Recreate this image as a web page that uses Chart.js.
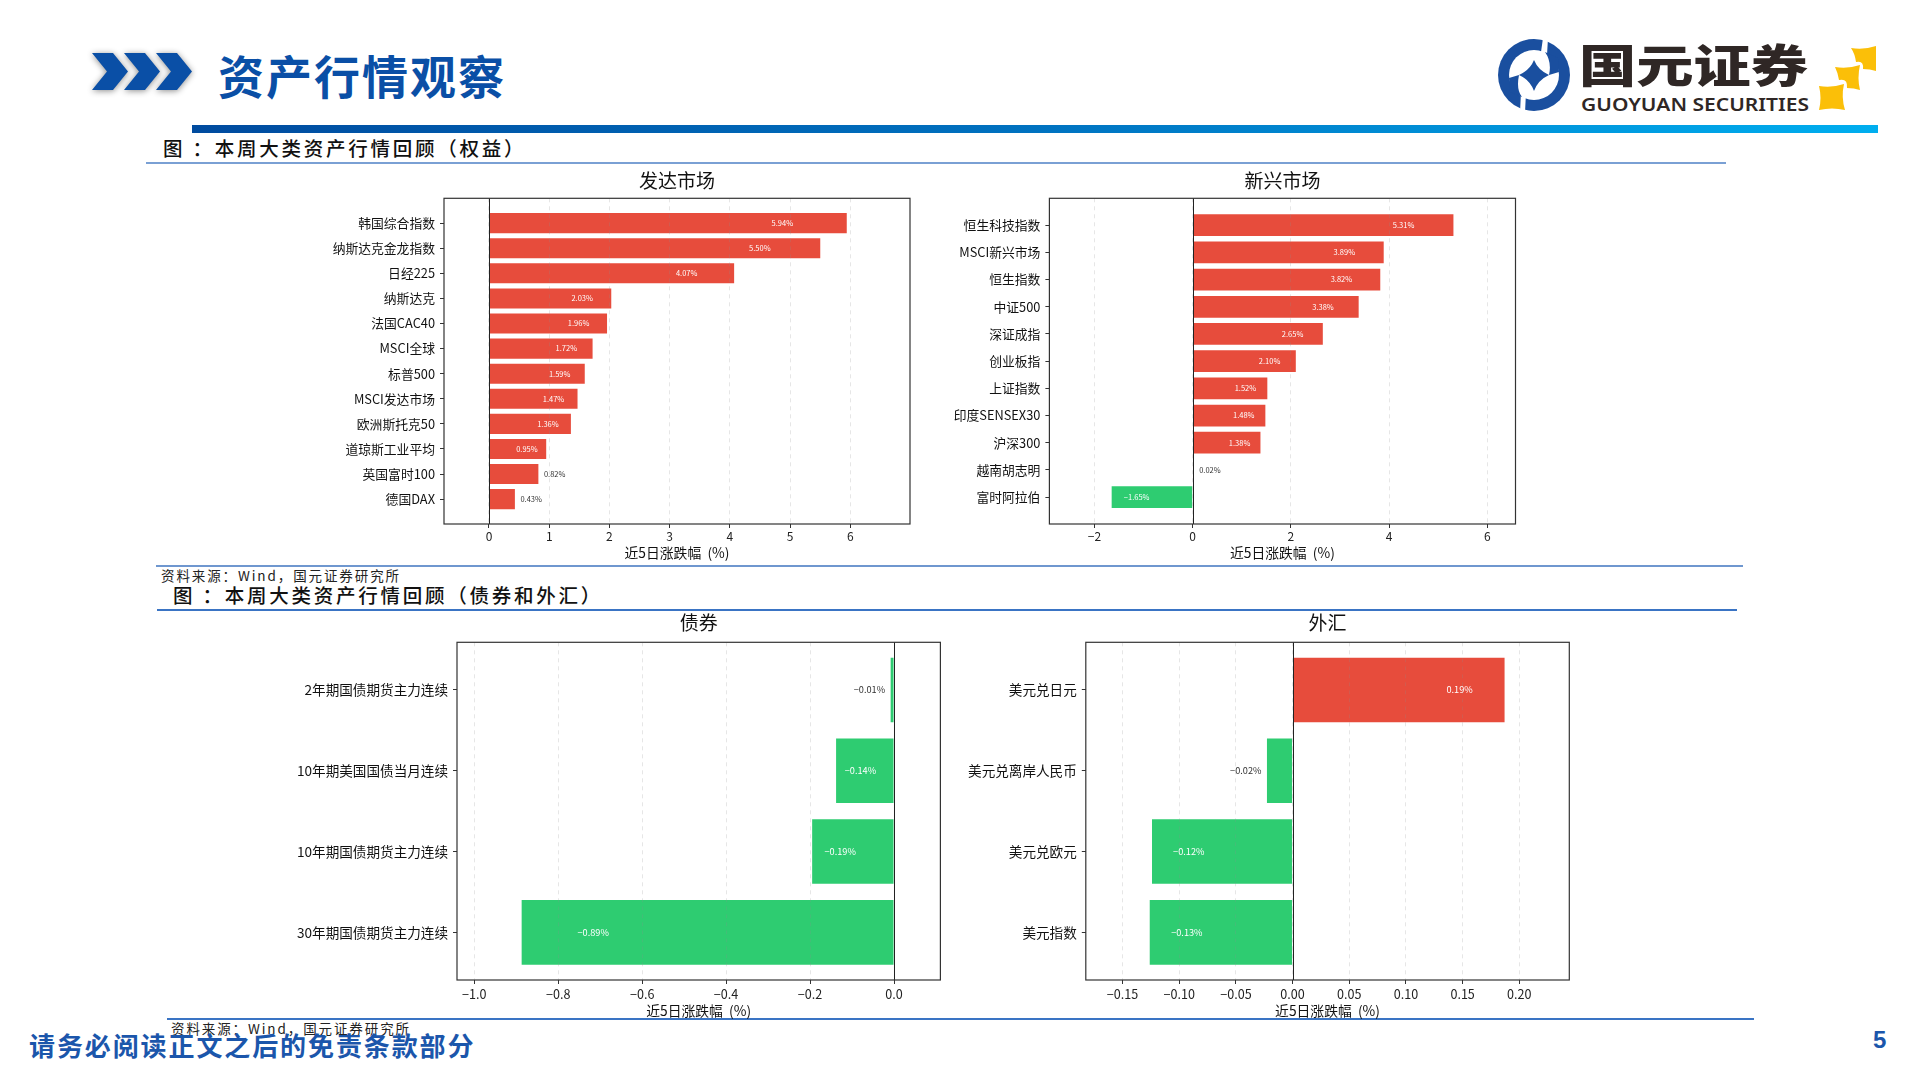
<!DOCTYPE html>
<html lang="zh">
<head>
<meta charset="utf-8">
<title>资产行情观察</title>
<script src="https://cdn.jsdelivr.net/npm/chart.js@4"></script>
<style>
    html, body { margin: 0; padding: 0; background: #fff; }
    #page { position: relative; width: 1920px; height: 1080px; overflow: hidden; background: #fff; font-family: "Noto Sans CJK SC", sans-serif; }
    .txt { position: absolute; white-space: nowrap; }
    .rule { position: absolute; }
    .box { position: absolute; }
    #pageTitle { left: 218px; top: 44px; line-height: 60px; font-size: 46px; font-weight: 700; letter-spacing: 2px; color: #0a4fa6; }
    #topBar { left: 192px; top: 125px; width: 1686px; height: 8px; background: linear-gradient(to right, #004b9f, #0072c0 50%, #00aeef); }
    .head { font-size: 19.5px; font-weight: 500; letter-spacing: 2.75px; color: #111; line-height: 24px; }
    .source { font-size: 13.5px; letter-spacing: 1.9px; color: #222; line-height: 16px; }
    #footer { left: 29px; top: 1027px; line-height: 36px; font-size: 26px; font-weight: 700; letter-spacing: 1.9px; color: #1b56ab; }
    #pageNo { left: 1873px; top: 1024px; line-height: 32px; font-family: "Liberation Sans", sans-serif; font-size: 24px; font-weight: 700; color: #1b56ab; }
</style>
</head>
<body>
<div id="page">
    <svg class="box" style="left:85px;top:45px;filter:drop-shadow(0 1px 3px rgba(0,0,0,.45))" width="115" height="55" viewBox="85 45 115 55">
        <polygon fill="#0a4fa6" points="92,53 113,53 128,71.5 113,90 92,90 107,71.5"/>
        <polygon fill="#0a4fa6" points="124,53 145,53 160,71.5 145,90 124,90 139,71.5"/>
        <polygon fill="#0a4fa6" points="156,53 177,53 192,71.5 177,90 156,90 171,71.5"/>
    </svg>
    <div class="txt" id="pageTitle">资产行情观察</div>

    <svg class="box" style="left:1490px;top:30px" width="400" height="90" viewBox="1490 30 400 90">
        <circle cx="1534" cy="75" r="36" fill="#1a4f9f"/>
        <circle cx="1534" cy="75" r="25" fill="#fff"/>
        <path fill="#1a4f9f" d="M1534 60 Q1538 70 1549 75 Q1538 80 1534 91 Q1530 80 1519 75 Q1530 70 1534 60Z"/>
        <path fill="#fff" d="M1543 38 L1548 38 L1547 55 L1541 52Z M1521 92 L1526 92 L1525 113 L1520 113Z"/>
        <path fill="#1a4f9f" d="M1545 52 Q1552 62 1549 75 L1559 72 L1558 58Z M1522 97 Q1516 90 1519 75 L1509 78 L1510 92Z"/>
        <text x="1579" y="83" font-family="Noto Sans CJK SC" font-weight="900" font-size="45" fill="#2f2725" textLength="229" lengthAdjust="spacingAndGlyphs">国元证券</text>
        <text x="1581" y="111" font-family="Noto Sans" font-weight="600" font-size="18" fill="#2f2725" textLength="228" lengthAdjust="spacingAndGlyphs">GUOYUAN SECURITIES</text>
        <path fill="#fbbf08" d="M1819 86 Q1832 88 1844 84 Q1841 97 1845 110 Q1832 107 1819 110 Q1822 98 1819 86Z"/>
        <path fill="#fbbf08" d="M1835 67 Q1848 69 1860 65 Q1857 78 1860 90 Q1854 88 1847 88 Q1848 78 1839 80 Q1838 73 1835 67Z"/>
        <path fill="#fbbf08" d="M1851 48 Q1864 50 1876 46 L1876 71 Q1870 69 1863 69 Q1864 60 1856 62 Q1855 54 1851 48Z"/>
    </svg>

    <div class="rule" id="topBar"></div>

    <div class="txt head" style="left:163px;top:136px">图 ：本周大类资产行情回顾（权益）</div>
    <div class="rule" style="left:146px;top:162px;width:1580px;height:2px;background:#7aa0d4"></div>
    <div class="txt source" style="left:161px;top:567px">资料来源：Wind，国元证券研究所</div>
    <div class="rule" style="left:156px;top:565px;width:1587px;height:2px;background:#6f97cf"></div>

    <div class="txt head" style="left:173px;top:583px">图 ：本周大类资产行情回顾（债券和外汇）</div>
    <div class="rule" style="left:157px;top:609px;width:1580px;height:2px;background:#3a74c4"></div>
    <div class="txt source" style="left:171px;top:1020px">资料来源：Wind，国元证券研究所</div>
    <div class="rule" style="left:167px;top:1018px;width:1587px;height:2px;background:#3a74c4"></div>

    <div class="box" style="left:300px;top:165px;width:640px;height:401px"><canvas id="developedChart"></canvas></div>
    <div class="box" style="left:940px;top:165px;width:620px;height:401px"><canvas id="emergingChart"></canvas></div>
    <div class="box" style="left:280px;top:608px;width:680px;height:414px"><canvas id="bondChart"></canvas></div>
    <div class="box" style="left:960px;top:608px;width:640px;height:414px"><canvas id="fxChart"></canvas></div>

    <div class="txt" id="footer">请务必阅读正文之后的免责条款部分</div>
    <div class="txt" id="pageNo">5</div>
</div>

<script>
const RED = '#e74c3c';
const GREEN = '#2ecc71';
const FONT = '"Noto Sans CJK SC", sans-serif';
const AXIS_TITLE = '近5日涨跌幅  (%)';

// 发达市场
const developedCategories = ['韩国综合指数', '纳斯达克金龙指数', '日经225', '纳斯达克', '法国CAC40', 'MSCI全球', '标普500', 'MSCI发达市场', '欧洲斯托克50', '道琼斯工业平均', '英国富时100', '德国DAX'];
const developedValues = [5.94, 5.50, 4.07, 2.03, 1.96, 1.72, 1.59, 1.47, 1.36, 0.95, 0.82, 0.43];
const developedLabels = ['5.94%', '5.50%', '4.07%', '2.03%', '1.96%', '1.72%', '1.59%', '1.47%', '1.36%', '0.95%', '0.82%', '0.43%'];
const developedTicks = [0, 1, 2, 3, 4, 5, 6];
const developedTickLabels = ['0', '1', '2', '3', '4', '5', '6'];

// 新兴市场
const emergingCategories = ['恒生科技指数', 'MSCI新兴市场', '恒生指数', '中证500', '深证成指', '创业板指', '上证指数', '印度SENSEX30', '沪深300', '越南胡志明', '富时阿拉伯'];
const emergingValues = [5.31, 3.89, 3.82, 3.38, 2.65, 2.10, 1.52, 1.48, 1.38, 0.02, -1.65];
const emergingLabels = ['5.31%', '3.89%', '3.82%', '3.38%', '2.65%', '2.10%', '1.52%', '1.48%', '1.38%', '0.02%', '−1.65%'];
const emergingTicks = [-2, 0, 2, 4, 6];
const emergingTickLabels = ['−2', '0', '2', '4', '6'];

// 债券
const bondCategories = ['2年期国债期货主力连续', '10年期美国国债当月连续', '10年期国债期货主力连续', '30年期国债期货主力连续'];
const bondValues = [-0.008, -0.138, -0.195, -0.887];
const bondLabels = ['−0.01%', '−0.14%', '−0.19%', '−0.89%'];
const bondTicks = [-1.0, -0.8, -0.6, -0.4, -0.2, 0];
const bondTickLabels = ['−1.0', '−0.8', '−0.6', '−0.4', '−0.2', '0.0'];

// 外汇
const fxCategories = ['美元兑日元', '美元兑离岸人民币', '美元兑欧元', '美元指数'];
const fxValues = [0.187, -0.0226, -0.124, -0.126];
const fxLabels = ['0.19%', '−0.02%', '−0.12%', '−0.13%'];
const fxTicks = [-0.15, -0.10, -0.05, 0, 0.05, 0.10, 0.15, 0.20];
const fxTickLabels = ['−0.15', '−0.10', '−0.05', '0.00', '0.05', '0.10', '0.15', '0.20'];

// Box around the plot, the zero line and the value text on the bars
const framePlugin = {
    id: 'framePlugin',
    afterDraw(chart, args, opts) {
        const ctx = chart.ctx;
        const area = chart.chartArea;
        const xScale = chart.scales.x;
        const yScale = chart.scales.y;
        const zeroX = Math.round(xScale.getPixelForValue(0)) + 0.5;

        ctx.save();
        ctx.lineWidth = 1;
        ctx.strokeStyle = '#222';
        ctx.beginPath();
        ctx.moveTo(zeroX, area.top);
        ctx.lineTo(zeroX, area.bottom);
        ctx.stroke();
        ctx.strokeStyle = '#333';
        ctx.lineWidth = 1.2;
        ctx.strokeRect(area.left, area.top, area.right - area.left, area.bottom - area.top);

        const biggest = Math.max(...opts.values.map(v => Math.abs(v)));
        ctx.font = opts.size + 'px ' + FONT;
        ctx.textBaseline = 'middle';
        opts.values.forEach((v, i) => {
            const y = yScale.getPixelForValue(i);
            if (Math.abs(v) < biggest * 0.15) {
                // too short, text goes beyond the end of the bar
                const end = xScale.getPixelForValue(v);
                ctx.fillStyle = '#333';
                ctx.textAlign = v < 0 ? 'right' : 'left';
                ctx.fillText(opts.texts[i], end + (v < 0 ? -5.5 : 5.5), y);
            } else {
                ctx.fillStyle = '#fff';
                ctx.textAlign = v < 0 ? 'left' : 'right';
                ctx.fillText(opts.texts[i], xScale.getPixelForValue(v * 0.85), y);
            }
        });
        ctx.restore();
    }
};

function drawBars(canvasId, title, s) {
    const ctx = document.getElementById(canvasId).getContext('2d');
    new Chart(ctx, {
        type: 'bar',
        data: {
            datasets: [{
                data: s.values.map((v, i) => ({ x: v, y: i })),
                backgroundColor: s.values.map(v => v >= 0 ? RED : GREEN),
                categoryPercentage: 1,
                barPercentage: 0.8
            }]
        },
        plugins: [framePlugin],
        options: {
            indexAxis: 'y',
            responsive: true,
            maintainAspectRatio: false,
            animation: false,
            layout: { autoPadding: false, padding: { right: s.rightGap } },
            plugins: {
                legend: { display: false },
                tooltip: { enabled: false },
                title: {
                    display: true,
                    fullSize: false,
                    text: title,
                    color: '#111',
                    font: { family: FONT, size: 19, weight: 'normal' },
                    padding: { top: s.titleTop, bottom: s.titleBottom }
                },
                framePlugin: { values: s.values, texts: s.labels, size: s.labelSize }
            },
            scales: {
                x: {
                    type: 'linear',
                    min: s.xMin,
                    max: s.xMax,
                    afterBuildTicks: scale => { scale.ticks = s.ticks.map(v => ({ value: v })); },
                    afterFit: scale => { scale.height = s.xHeight; },
                    border: { display: false, dash: [4, 4] },
                    grid: { z: 1, color: 'rgba(140,140,140,0.22)', tickColor: '#333', tickLength: 4, tickBorderDash: [] },
                    ticks: {
                        autoSkip: false,
                        maxRotation: 0,
                        color: '#222',
                        padding: s.tickGap,
                        font: { family: FONT, size: s.xTickSize },
                        callback: (v, i) => s.tickLabels[i]
                    },
                    title: {
                        display: true,
                        text: AXIS_TITLE,
                        color: '#111',
                        font: { family: FONT, size: 13.8 },
                        padding: { top: 0, bottom: s.axisTitleGap }
                    }
                },
                y: {
                    type: 'linear',
                    reverse: true,
                    offset: false,
                    min: -s.yPad,
                    max: s.categories.length - 1 + s.yPad,
                    afterBuildTicks: scale => { scale.ticks = s.categories.map((c, i) => ({ value: i })); },
                    afterFit: scale => { scale.width = s.yWidth; },
                    border: { display: false },
                    grid: { offset: false, drawOnChartArea: false, tickColor: '#333', tickLength: 4 },
                    ticks: {
                        autoSkip: false,
                        color: '#111',
                        padding: 5,
                        font: { family: FONT, size: s.yTickSize },
                        callback: (v, i) => s.categories[i]
                    }
                }
            }
        }
    });
}

function init() {
    drawBars('developedChart', '发达市场', {
        categories: developedCategories, values: developedValues, labels: developedLabels,
        ticks: developedTicks, tickLabels: developedTickLabels,
        xMin: -0.747, xMax: 6.99, yPad: 0.99,
        yWidth: 144, rightGap: 30, xHeight: 42, tickGap: 1.5, axisTitleGap: 4.9, titleTop: 4, titleBottom: 6.5,
        yTickSize: 12.8, xTickSize: 12, labelSize: 7.5
    });
    drawBars('emergingChart', '新兴市场', {
        categories: emergingCategories, values: emergingValues, labels: emergingLabels,
        ticks: emergingTicks, tickLabels: emergingTickLabels,
        xMin: -2.918, xMax: 6.574, yPad: 0.99,
        yWidth: 109.4, rightGap: 44.5, xHeight: 42, tickGap: 1.5, axisTitleGap: 4.9, titleTop: 4, titleBottom: 6.5,
        yTickSize: 12.8, xTickSize: 12, labelSize: 7.5
    });
    drawBars('bondChart', '债券', {
        categories: bondCategories, values: bondValues, labels: bondLabels,
        ticks: bondTicks, tickLabels: bondTickLabels,
        xMin: -1.041, xMax: 0.1105, yPad: 0.59,
        yWidth: 177, rightGap: 19.6, xHeight: 42, tickGap: 2.5, axisTitleGap: 2.9, titleTop: 3.6, titleBottom: 7.9,
        yTickSize: 13.6, xTickSize: 12.6, labelSize: 9.2
    });
    drawBars('fxChart', '外汇', {
        categories: fxCategories, values: fxValues, labels: fxLabels,
        ticks: fxTicks, tickLabels: fxTickLabels,
        xMin: -0.1824, xMax: 0.2441, yPad: 0.59,
        yWidth: 125.8, rightGap: 30.7, xHeight: 42, tickGap: 2.5, axisTitleGap: 2.9, titleTop: 3.6, titleBottom: 7.9,
        yTickSize: 13.6, xTickSize: 12.6, labelSize: 9.2
    });
}

document.addEventListener('DOMContentLoaded', init);
</script>
</body>
</html>
